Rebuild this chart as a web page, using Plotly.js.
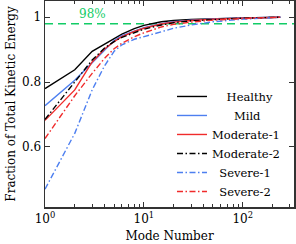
<!DOCTYPE html>
<html>
<head>
<meta charset="utf-8">
<script src="https://cdn.plot.ly/plotly-3.0.1.min.js"></script>
<style>
  html, body { margin: 0; padding: 0; background: #fff; }
  #chart { width: 296px; height: 244px; }
</style>
</head>
<body>
<div id="chart"></div>
<script>
// ---- data ----
const modes      = [1, 2, 3, 4, 5, 6, 8, 10, 15, 20, 30, 50, 100, 240];
const healthy    = [0.780, 0.838, 0.895, 0.917, 0.935, 0.948, 0.965, 0.975, 0.986, 0.990, 0.993, 0.996, 0.998, 1.000];
const mild       = [0.727, 0.806, 0.860, 0.897, 0.928, 0.943, 0.958, 0.968, 0.980, 0.986, 0.991, 0.995, 0.998, 1.000];
const moderate1  = [0.682, 0.776, 0.862, 0.902, 0.925, 0.940, 0.956, 0.966, 0.979, 0.985, 0.990, 0.994, 0.997, 1.000];
const moderate2  = [0.685, 0.800, 0.868, 0.905, 0.925, 0.938, 0.953, 0.963, 0.976, 0.983, 0.989, 0.993, 0.997, 1.000];
const severe1    = [0.470, 0.642, 0.776, 0.850, 0.895, 0.915, 0.932, 0.941, 0.955, 0.966, 0.976, 0.986, 0.994, 1.000];
const severe2    = [0.626, 0.758, 0.827, 0.873, 0.903, 0.920, 0.940, 0.952, 0.970, 0.978, 0.985, 0.991, 0.996, 1.000];
const seriesNames = ["Healthy", "Mild", "Moderate-1", "Moderate-2", "Severe-1", "Severe-2"];
const threshold = 0.98;
const thresholdLabel = "98%";
const thresholdLabelX = 3;
const xTickVals = [1, 10, 100];
const xTickText = ["10<sup>0</sup>", "10<sup>1</sup>", "10<sup>2</sup>"];
const xMinorVals = [2,3,4,5,6,7,8,9,20,30,40,50,60,70,80,90,200,300];
const yTickVals = [0.6, 0.8, 1];

// ---- styling ----
const FONT = "DejaVu Serif";
const FS = 12;
const LFS = 11.5;
const BLACK = "#000000", BLUE = "#4d7ff0", RED = "#f02b2b", GREEN = "#12cc66";
const DASHDOT = "6px,2.5px,1.5px,2.5px";
const styles = [
  {color: BLACK, dash: "solid"},
  {color: BLUE,  dash: "solid"},
  {color: RED,   dash: "solid"},
  {color: BLACK, dash: DASHDOT},
  {color: BLUE,  dash: DASHDOT},
  {color: RED,   dash: DASHDOT}
];
const allY = [healthy, mild, moderate1, moderate2, severe1, severe2];

// centre legend labels like the reference (pad with figure spaces)
const cv = document.createElement("canvas").getContext("2d");
cv.font = LFS + "px '" + FONT + "'";
const widths = seriesNames.map(n => cv.measureText(n).width);
const maxW = Math.max(...widths);
const spW = cv.measureText("\u2007").width || 7;
const padded = seriesNames.map((n, i) => "\u2007".repeat(Math.max(0, Math.round((maxW - widths[i]) / 2 / spW))) + n);

const traces = allY.map((ys, i) => ({
  type: "scatter", mode: "lines",
  x: modes, y: ys, name: padded[i],
  line: {color: styles[i].color, dash: styles[i].dash, width: 1.4}
}));

const axisCommon = {
  showline: true, linecolor: "#333", linewidth: 1.5, mirror: "ticks",
  ticks: "inside", ticklen: 5, tickwidth: 1, tickcolor: "#333",
  showgrid: false, zeroline: false,
  tickfont: {family: FONT, size: FS, color: "#000"}
};

const layout = {
  width: 296, height: 244,
  margin: {l: 45, r: 2, t: 1, b: 37},
  paper_bgcolor: "#fff", plot_bgcolor: "#fff",
  font: {family: FONT, size: FS, color: "#000"},
  showlegend: true,
  legend: {
    x: 0.51, xanchor: "left", y: 0.005, yanchor: "bottom",
    bgcolor: "rgba(0,0,0,0)", borderwidth: 0,
    font: {family: FONT, size: LFS, color: "#000"},
    itemwidth: 30
  },
  xaxis: Object.assign({}, axisCommon, {
    type: "log", range: [0, Math.log10(330)],
    tickmode: "array", tickvals: xTickVals, ticktext: xTickText,
    minor: {tickmode: "array", tickvals: xMinorVals, ticks: "inside", ticklen: 3, tickcolor: "#333", tickwidth: 1},
    title: {text: "Mode Number", font: {family: FONT, size: FS}, standoff: 6}
  }),
  yaxis: Object.assign({}, axisCommon, {
    range: [0.415, 1.05],
    tickmode: "array", tickvals: yTickVals,
    title: {text: "Fraction of Total Kinetic Energy", font: {family: FONT, size: FS}, standoff: 4}
  }),
  shapes: [{
    type: "line", xref: "paper", x0: 0, x1: 1, yref: "y", y0: threshold, y1: threshold,
    line: {color: GREEN, width: 1.4, dash: "8px,5px"}, layer: "below"
  }],
  annotations: [{
    x: Math.log10(thresholdLabelX), y: threshold, xref: "x", yref: "y",
    yanchor: "bottom", yshift: 1, text: thresholdLabel, showarrow: false,
    font: {family: FONT, size: FS, color: GREEN}
  }]
};

Plotly.newPlot("chart", traces, layout, {displayModeBar: false, staticPlot: true});
</script>
</body>
</html>
